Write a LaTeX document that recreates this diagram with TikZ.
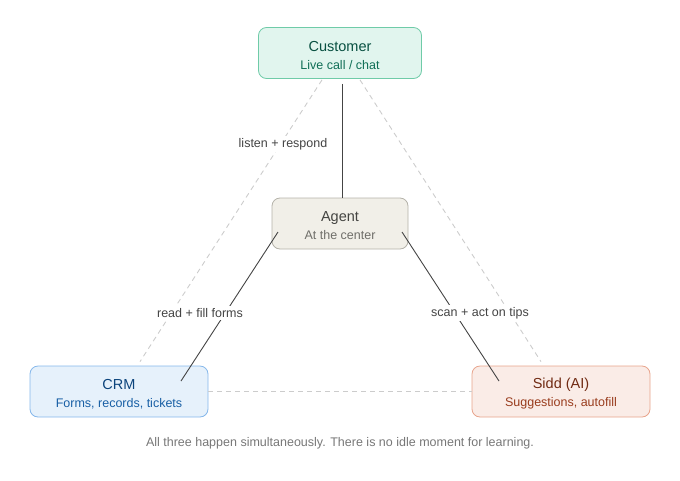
\documentclass[tikz,border=0pt]{standalone}
\usepackage{fontspec}
\setmainfont{Liberation Sans}
\usetikzlibrary{calc}
\definecolor{custfill}{HTML}{E1F5EE}
\definecolor{custline}{HTML}{6FCBA8}
\definecolor{custtext}{HTML}{085041}
\definecolor{custsub}{HTML}{0F6E56}
\definecolor{agfill}{HTML}{F1EFE8}
\definecolor{agline}{HTML}{B4B2A9}
\definecolor{agtext}{HTML}{444441}
\definecolor{agsub}{HTML}{6F6E69}
\definecolor{crmfill}{HTML}{E6F1FB}
\definecolor{crmline}{HTML}{85B7EB}
\definecolor{crmtext}{HTML}{0C447C}
\definecolor{crmsub}{HTML}{185FA5}
\definecolor{aifill}{HTML}{FAECE7}
\definecolor{ailine}{HTML}{E8A48C}
\definecolor{aitext}{HTML}{712B13}
\definecolor{aisub}{HTML}{993C1D}
\definecolor{linkcol}{HTML}{444444}
\definecolor{ghost}{HTML}{CCCCCC}
\definecolor{note}{HTML}{777777}
\newcommand{\subline}[2]{\\[-1pt]{\fontsize{12.5}{14}\selectfont\color{#1}#2}}
\begin{document}
\begin{tikzpicture}[x=1pt,y=-1pt,
  box/.style={draw,rounded corners=8pt,line width=0.8pt,align=center,
    minimum height=51pt,inner sep=0pt,font=\fontsize{14.5}{19}\selectfont},
  link/.style={draw=linkcol,line width=0.9pt},
  ghostlink/.style={draw=ghost,line width=0.9pt,dash pattern=on 5pt off 4pt},
  tag/.style={fill=white,text=linkcol,inner sep=2pt,font=\fontsize{12.5}{14}\selectfont}]
  \useasboundingbox (0,0) rectangle (680,480);
  % boxes
  \node[box,fill=custfill,draw=custline,minimum width=163pt,text=custtext]
    (customer) at (340,53) {\rule{0pt}{15pt}Customer\subline{custsub}{Live call / chat}};
  \node[box,fill=agfill,draw=agline,minimum width=136pt,text=agtext]
    (agent) at (340,223.5) {\rule{0pt}{15pt}Agent\subline{agsub}{At the center}};
  \node[box,fill=crmfill,draw=crmline,minimum width=178pt,text=crmtext]
    (crm) at (119,391.5) {\rule{0pt}{15pt}CRM\subline{crmsub}{Forms, records, tickets}};
  \node[box,fill=aifill,draw=ailine,minimum width=178pt,text=aitext]
    (sidd) at (561,391.5) {\rule{0pt}{15pt}Sidd (AI)\subline{aisub}{Suggestions, autofill}};
  % end points of the links
  \coordinate (custL) at ($(customer.south)+(-18,1)$);
  \coordinate (custR) at ($(customer.south)+(20,1)$);
  \coordinate (custM) at ($(customer.south)+(2.5,5)$);
  \coordinate (agT) at ($(agent.north)+(2.5,0)$);
  \coordinate (crmT) at ($(crm.north)+(21,-4)$);
  \coordinate (siddT) at ($(sidd.north)+(-20,-4)$);
  \coordinate (agL) at ($(agent.center)+(-62,8.5)$);
  \coordinate (agR) at ($(agent.center)+(62,8.5)$);
  \coordinate (crmR) at ($(crm.center)+(62,-10.5)$);
  \coordinate (siddL) at ($(sidd.center)+(-62,-10.5)$);
  % background triangle
  \draw[ghostlink] (custL) -- (crmT);
  \draw[ghostlink] (custR) -- (siddT);
  \draw[ghostlink] (crm.east) -- (sidd.west);
  % links to the agent
  \draw[link] (custM) -- (agT);
  \draw[link] (agL) -- (crmR);
  \draw[link] (agR) -- (siddL);
  \node[tag] (listen) at (283,144) {listen + respond};
  \node[tag] (read) at (200,313) {read + fill forms};
  \node[tag] (scan) at (480,313) {scan + act on tips};
  \node[text=note,font=\fontsize{12.5}{14}\selectfont] (caption) at (340,443)
    {All three happen simultaneously. There is no idle moment for learning.};
\end{tikzpicture}
\end{document}
